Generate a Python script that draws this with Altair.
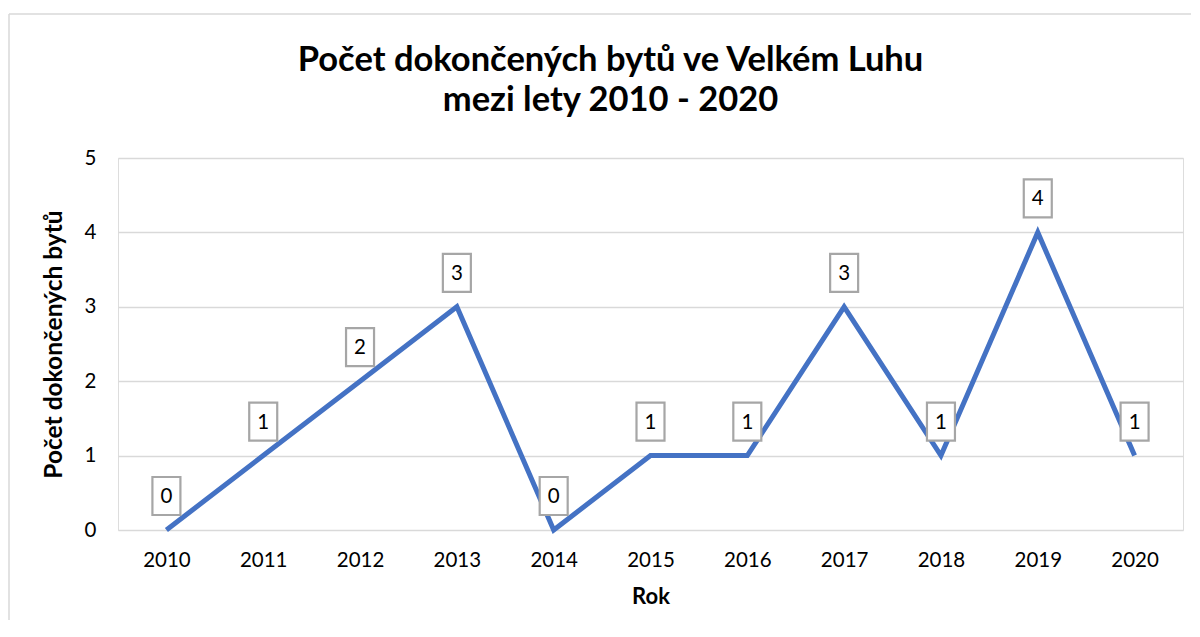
import altair as alt
import pandas as pd

years = ["2010", "2011", "2012", "2013", "2014", "2015", "2016", "2017", "2018", "2019", "2020"]
values = [0, 1, 2, 3, 0, 1, 1, 3, 1, 4, 1]
title_lines = ["Počet dokončených bytů ve Velkém Luhu", "mezi lety 2010 - 2020"]
x_title = "Rok"
y_title = "Počet dokončených bytů"

df = pd.DataFrame({"rok": years, "pocet": values})

FONT = "Lato"
W, H = 1065, 372

x_enc = alt.X("rok:N", sort=years, title=x_title,
              scale=alt.Scale(paddingInner=0, paddingOuter=0),
              axis=alt.Axis(labelAngle=0, domain=False, ticks=False, tickSize=0, grid=False,
                            labelPadding=20, titlePadding=16,
                            labelFontSize=20.5, titleFontSize=22, titleFontWeight="bold",
                            labelColor="#000000", titleColor="#000000",
                            labelFont=FONT, titleFont=FONT))
y_enc = alt.Y("pocet:Q", title=y_title,
              scale=alt.Scale(domain=[0, 5], nice=False),
              axis=alt.Axis(values=[0, 1, 2, 3, 4, 5], format="d", domain=False, ticks=False, tickSize=0,
                            grid=True, gridColor="#D9D9D9", gridWidth=1.4,
                            labelPadding=22, titlePadding=18,
                            labelFontSize=20.5, titleFontSize=24.5, titleFontWeight="bold",
                            labelColor="#000000", titleColor="#000000",
                            labelFont=FONT, titleFont=FONT))

base = alt.Chart(df)

line = base.mark_line(color="#4472C4", strokeWidth=5, strokeCap="butt", strokeJoin="miter").encode(
    x=x_enc, y=y_enc)

boxes = base.mark_point(shape="M-1,-1.357H1V1.357H-1Z", size=784, filled=False, fill="white",
                        fillOpacity=1, opacity=1, stroke="#A6A6A6", strokeWidth=2.2,
                        yOffset=-34).encode(x=alt.X("rok:N", sort=years), y="pocet:Q")

labels = base.mark_text(font=FONT, fontSize=20.5, color="#000000", baseline="middle",
                        align="center", yOffset=-33).encode(
    x=alt.X("rok:N", sort=years), y="pocet:Q", text="pocet:Q")

one = pd.DataFrame({"k": [0]})
left_border = alt.Chart(one).mark_rule(color="#D9D9D9", strokeWidth=1.5).encode(
    x=alt.value(-109), y=alt.value(-144), y2=alt.value(462))
top_border = alt.Chart(one).mark_rule(color="#D9D9D9", strokeWidth=1.5).encode(
    x=alt.value(-109), x2=alt.value(1073), y=alt.value(-144))

title1 = alt.Chart(one).mark_text(font=FONT, fontSize=34.5, fontWeight="bold", color="#000000",
                                  align="center", baseline="middle").encode(
    x=alt.value(W / 2 - 40), y=alt.value(-97), text=alt.value(title_lines[0]))
title2 = alt.Chart(one).mark_text(font=FONT, fontSize=34.5, fontWeight="bold", color="#000000",
                                  align="center", baseline="middle").encode(
    x=alt.value(W / 2 - 40), y=alt.value(-57), text=alt.value(title_lines[1]))

chart = alt.layer(left_border, top_border, title1, title2, line, boxes, labels).properties(
    width=W, height=H,
    padding={"left": 0, "top": 5, "right": 0, "bottom": 0},
).configure_view(stroke=None).configure(background="white")

chart.save("out.html", embed_options={"renderer": "svg", "actions": False})
